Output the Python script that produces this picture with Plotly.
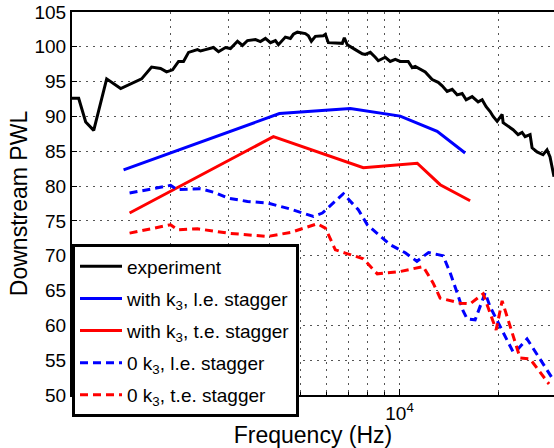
import plotly.graph_objects as go

# Measured spectrum (experiment)
exp_freq = [1000, 1048, 1101, 1165, 1276, 1408, 1631, 1750, 1864, 1944, 2028, 2115,
            2190, 2269, 2416, 2468, 2556, 2704, 2801, 2942, 3047, 3201, 3315, 3434,
            3632, 3761, 3895, 4035, 4178, 4268, 4482, 4643, 4741, 4876, 5158, 5268,
            5380, 5534, 5854, 5936, 6062, 6368, 6688, 6783, 6927, 7327, 7696, 7860,
            8142, 8432, 8612, 9045, 9367, 9703, 10049, 10629, 10932, 11166, 11978,
            12581, 13122, 13496, 13977, 14477, 14994, 15531, 15973, 16658, 17378,
            17873, 18382, 18907, 19312, 19861, 20572, 20717, 21755, 22216, 23011,
            23667, 24169, 25034, 25389, 26292, 27425, 28205, 28807, 29623]
exp_pwl = [92.6, 92.6, 89.2, 88.0, 95.4, 94.0, 95.4, 97.1, 96.9, 96.4, 96.7, 97.9,
           97.9, 99.2, 99.6, 99.4, 99.6, 99.9, 99.3, 99.9, 99.75, 100.8, 100.2, 100.9,
           101.05, 100.76, 101.2, 100.6, 100.9, 100.3, 101.4, 101.2, 101.8, 102.1, 101.9, 101.6,
           100.8, 101.5, 101.6, 101.8, 100.6, 100.6, 100.5, 101.3, 100.3, 99.6, 99.0, 98.9,
           99.2, 98.5, 98.0, 98.5, 97.9, 98.2, 97.9, 97.9, 97.0, 97.2, 96.4,
           95.3, 94.9, 94.4, 93.6, 93.9, 93.1, 93.3, 92.4, 92.85, 92.1,
           92.4, 91.4, 90.7, 90.0, 89.3, 90.3, 89.1, 88.4, 88.1, 87.4,
           87.7, 87.1, 87.4, 85.5, 84.9, 84.5, 85.2, 84.2, 81.35]

# Predictions with k3
k3_le_freq = [1437, 4298, 7074, 10049, 13028, 15860]
k3_le_pwl = [82.33, 90.41, 91.13, 90.05, 87.86, 84.76]

k3_te_freq = [1499, 4120, 7750, 11324, 13307, 16427]
k3_te_pwl = [76.13, 87.1, 82.64, 83.29, 80.2, 77.9]

# Predictions with zero k3
z_le_freq = [1499, 2000, 2100, 2468, 2742, 2983, 3434, 3951, 4643, 5457, 5812, 6736,
             7484, 7971, 9367, 10409, 11299, 12258, 13590, 14276, 14994, 15639, 16084,
             17014, 18255, 18907, 22216, 22848, 24510, 29623]
z_le_pwl = [79.0, 80.1, 79.48, 79.62, 79.05, 78.29, 77.8, 77.57, 76.7, 75.64, 76.13, 78.9,
            76.6, 74.45, 71.57, 70.42, 69.2, 70.46, 69.99, 67.54, 64.67, 62.08, 60.93,
            60.79, 64.67, 62.66, 56.19, 56.47, 58.06, 52.02]

z_te_freq = [1499, 2000, 2100, 2416, 2983, 3951, 4643, 5612, 5936, 6368, 6831, 7750,
             8551, 10049, 11810, 12669, 13307, 15314, 16427, 18000, 19720, 20572, 23335,
             25034, 28602]
z_te_pwl = [73.25, 74.45, 73.73, 73.87, 73.25, 72.76, 73.34, 74.59, 73.97, 70.85, 70.38, 69.56,
            67.4, 67.73, 68.45, 66.06, 63.91, 63.19, 63.09, 64.53, 59.35, 63.52, 55.32,
            55.18, 51.58]

x_major = [1e4]
x_major_text = ["10<sup>4</sup>"]
x_minor = [2000, 3000, 4000, 5000, 6000, 7000, 8000, 9000, 20000, 30000]
y_ticks = [50, 55, 60, 65, 70, 75, 80, 85, 90, 95, 100, 105]

FONT = "Liberation Sans, Arial, Helvetica, sans-serif"
DASH = "8px,5px"

series = [
    ("experiment", exp_freq, exp_pwl, "black", "solid"),
    ("with k<sub>3</sub>, l.e. stagger", k3_le_freq, k3_le_pwl, "#0000ff", "solid"),
    ("with k<sub>3</sub>, t.e. stagger", k3_te_freq, k3_te_pwl, "#ff0000", "solid"),
    ("0 k<sub>3</sub>, l.e. stagger", z_le_freq, z_le_pwl, "#0000ff", DASH),
    ("0 k<sub>3</sub>, t.e. stagger", z_te_freq, z_te_pwl, "#ff0000", DASH),
]

fig = go.Figure()
for i, (name, fx, fy, color, dash) in enumerate(series):
    fig.add_trace(go.Scatter(
        x=fx, y=fy, mode="lines", name=name, legendgroup=f"g{i}",
        line=dict(color=color, width=3, dash=dash),
    ))

grid = dict(showgrid=True, gridcolor="#555555", gridwidth=1, griddash="2px,5px")

fig.update_xaxes(
    type="log", range=[3.0, 4.4716],
    tickmode="array", tickvals=x_major, ticktext=x_major_text,
    ticks="inside", ticklen=6, tickwidth=1, tickcolor="black",
    showline=True, linecolor="black", linewidth=2, mirror=True,
    minor=dict(tickmode="array", tickvals=x_minor, ticks="inside", ticklen=3,
               tickcolor="black", **grid),
    title=dict(text="Frequency (Hz)", standoff=4),
    zeroline=False, **grid,
)
fig.update_yaxes(
    range=[50, 105], tickmode="array", tickvals=y_ticks,
    ticks="inside", ticklen=5, tickwidth=1, tickcolor="black",
    showline=True, linecolor="black", linewidth=2, mirror=False,
    title=dict(text="Downstream PWL", standoff=0),
    zeroline=False, **grid,
)

fig.update_layout(
    width=554, height=448,
    margin=dict(l=72, r=0, t=12, b=53),
    paper_bgcolor="white", plot_bgcolor="white",
    font=dict(family=FONT, size=19, color="black"),
    showlegend=True,
    legend=dict(
        x=0, xanchor="left", y=0.393, yanchor="top",
        bgcolor="white", bordercolor="black", borderwidth=3,
        font=dict(family=FONT, size=19, color="black"),
        tracegroupgap=4.4, itemwidth=42,
    ),
)

fig.write_html("out.html")
